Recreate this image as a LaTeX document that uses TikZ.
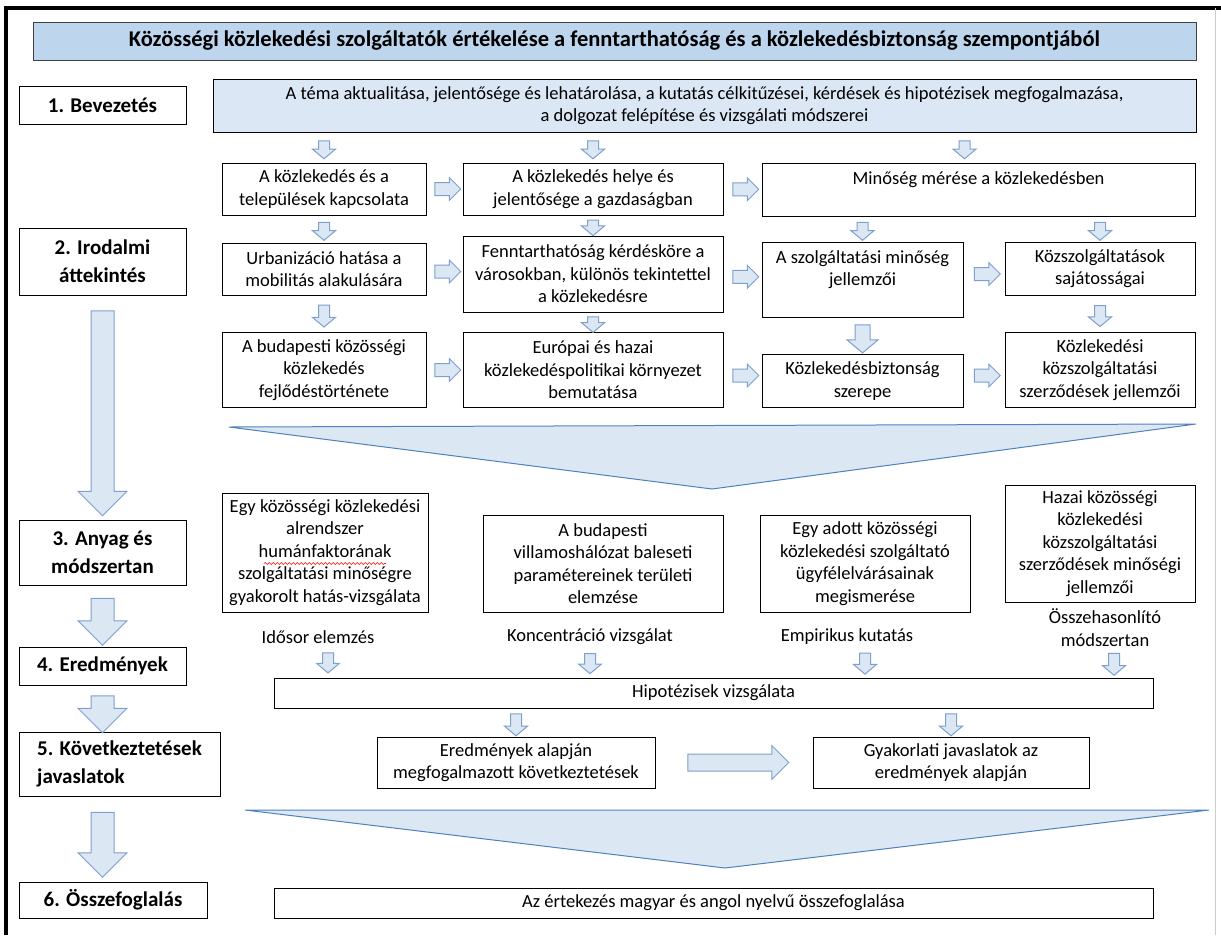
\documentclass[tikz,border=0pt]{standalone}
\usepackage{fontspec}
\setmainfont{Carlito}
\usetikzlibrary{positioning,calc,shapes.arrows,decorations.pathmorphing}

\definecolor{arrfill}{RGB}{220,231,244}
\definecolor{arrline}{RGB}{125,160,204}
\definecolor{headfill}{RGB}{189,214,238}
\definecolor{introfill}{RGB}{219,231,244}
\definecolor{funline}{RGB}{79,129,189}

\newcommand{\txtfont}{\fontsize{18.5}{22.5}\selectfont}
\newcommand{\secfont}{\fontsize{21}{28}\selectfont\bfseries}
\newcommand{\headfont}{\fontsize{22.5}{26}\selectfont\bfseries}

\begin{document}
\begin{tikzpicture}[x=1pt,y=-1pt,
  box/.style={draw,line width=1pt,fill=white,align=center,font=\txtfont,inner sep=2pt},
  sec/.style={draw,line width=1pt,align=center,font=\secfont,inner sep=2pt},
  method/.style={align=center,font=\txtfont,inner sep=0pt},
  darr/.style={single arrow,draw=arrline,fill=arrfill,line width=1pt,inner sep=5pt,
    shape border rotate=270,minimum width=0pt,minimum height=18pt,
    single arrow head extend=6pt,single arrow tip angle=100},
  rarr/.style={darr,shape border rotate=0,inner sep=6pt,minimum height=26pt,
    single arrow head extend=5pt,single arrow tip angle=90},
  bigarr/.style={darr,inner sep=11pt,single arrow head extend=13pt,single arrow tip angle=90},
  funnel/.style={draw=funline,fill=arrfill,line width=1pt},
  spellwave/.style={red,line width=.6pt,decorate,decoration={snake,amplitude=1pt,segment length=4pt}}]
\useasboundingbox (0,0) rectangle (1221,935);

\draw[line width=3.5pt] (6,935) -- (6,8) -- (1221,8);
\draw[black!20,line width=1pt] (1215,8) -- (1215,935);

\node[sec,font=\headfont,fill=headfill,draw=black!75,minimum width=1163pt,minimum height=38pt] (T) at (614.5,41)
  {Közösségi közlekedési szolgáltatók értékelése a fenntarthatóság és a közlekedésbiztonság szempontjából};

% left column
\node[sec,minimum width=167pt,minimum height=38pt] (S1) at (102.5,105) {1. Bevezetés};
\node[sec,minimum width=167pt,minimum height=67pt] (S2) at (102.5,261.5) {2. Irodalmi\\áttekintés};
\node[sec,minimum width=167pt,minimum height=65pt] (S3) at (102.5,552.5) {3. Anyag és\\módszertan};
\node[sec,minimum width=167pt,minimum height=38pt] (S4) at (102.5,666) {4. Eredmények};
\node[sec,align=left,minimum width=201pt,minimum height=64pt] (S5) at (119.5,764) {5. Következtetések\\javaslatok};
\node[sec,minimum width=188pt,minimum height=36pt] (S6) at (113,900) {6. Összefoglalás};

\node[bigarr,minimum height=205pt] at ($(S2.south)!.5!(S3.north)$) {};
\node[bigarr,minimum height=47pt] at ($(S3.south)!.5!(S4.north)$) {};
\node[bigarr,minimum height=37pt] at ($(S4.south)!.5!(S4.south |- S5.north)$) {};
\node[bigarr,minimum height=65pt] at ($(S4.south |- S5.south)!.5!(S4.south |- S6.north)$) {};

% introduction and literature
\node[box,fill=introfill,minimum width=983pt,minimum height=53pt] (I) at (704.5,105.5)
  {A téma aktualitása, jelentősége és lehatárolása, a kutatás célkitűzései, kérdések és hipotézisek megfogalmazása,\\a dolgozat felépítése és vizsgálati módszerei};

\node[box,minimum width=204pt,minimum height=52pt] (A1) at (324,189) {A közlekedés és a\\települések kapcsolata};
\node[box,minimum width=260pt,minimum height=52pt] (A2) at (593,189) {A közlekedés helye és\\jelentősége a gazdaságban};
\node[box,minimum width=433pt,minimum height=53pt] (A3) at (978.5,189.5) {Minőség mérése a közlekedésben\\ \mbox{}};

\node[box,minimum width=204pt,minimum height=52pt] (B1) at (324,269) {Urbanizáció hatása a\\mobilitás alakulására};
\node[box,minimum width=260pt,minimum height=76pt] (B2) at (593,274) {Fenntarthatóság kérdésköre a\\városokban, különös tekintettel\\a közlekedésre};
\node[box,minimum width=201pt,minimum height=75pt] (B3) at (862.5,279.5) {A szolgáltatási minőség\\jellemzői\\ \mbox{}};
\node[box,minimum width=190pt,minimum height=53pt] (B4) at (1100,268.5) {Közszolgáltatások\\sajátosságai};

\node[box,minimum width=204pt,minimum height=75pt] (C1) at (324,370) {A budapesti közösségi\\közlekedés\\fejlődéstörténete};
\node[box,minimum width=260pt,minimum height=75pt] (C2) at (593,370) {Európai és hazai\\közlekedéspolitikai környezet\\bemutatása};
\node[box,minimum width=201pt,minimum height=53pt] (C3) at (862.5,381) {Közlekedésbiztonság\\szerepe};
\node[box,minimum width=190pt,minimum height=75pt] (C4) at (1100,370) {Közlekedési\\közszolgáltatási\\szerződések jellemzői};

\node[darr] at ($(A1.north)!.5!(A1.north |- I.south)$) {};
\node[darr] at ($(A2.north)!.5!(A2.north |- I.south)$) {};
\node[darr] at ($(A3.north)!.5!(A3.north |- I.south)+(-14,0)$) {};
\node[darr] at ($(A1.south)!.5!(B1.north)$) {};
\node[darr,minimum height=15pt] at ($(A2.south)!.5!(A2.south |- B2.north)$) {};
\node[darr] at ($(B3.north)!.5!(B3.north |- A3.south)$) {};
\node[darr] at ($(B4.north)!.5!(B4.north |- A3.south)$) {};
\node[darr,minimum height=22pt] at ($(B1.south)!.5!(C1.north)$) {};
\node[darr,minimum height=15pt] at ($(B2.south)!.5!(C2.north)$) {};
\node[darr,inner sep=7pt,single arrow head extend=8pt,minimum height=28pt] at ($(B3.south)!.5!(C3.north)$) {};
\node[darr,minimum height=21pt] at ($(B4.south)!.5!(C4.north)$) {};

\node[rarr] at ($(A1.east)!.5!(A2.west)$) {};
\node[rarr] at ($(A2.east)!.5!(A3.west)$) {};
\node[rarr] at ($(B1.east)!.5!(B2.west)$) {};
\node[rarr] at ($(B2.east)!.5!(B3.west)$) {};
\node[rarr] at ($(B3.east)!.5!(B4.west)$) {};
\node[rarr] at ($(C1.east)!.5!(C2.west)$) {};
\node[rarr] at ($(C2.east)!.5!(C3.west)$) {};
\node[rarr] at ($(C3.east)!.5!(C4.west)$) {};

\draw[funnel] (229,427) -- (1196,424) -- (712,489) -- cycle;

% methods
\node[box,minimum width=206pt,minimum height=119pt] (D1) at (325,552.5)
  {Egy közösségi közlekedési\\alrendszer\\humánfaktorának\\szolgáltatási minőségre\\gyakorolt hatás-vizsgálata};
\draw[spellwave] ($(D1.center)+(-61,11)$) -- ($(D1.center)+(61,11)$);
\node[box,minimum width=240pt,minimum height=97pt] (D2) at (603,563.5) {A budapesti\\villamoshálózat baleseti\\paramétereinek területi\\elemzése};
\node[box,minimum width=210pt,minimum height=97pt] (D3) at (865,563.5) {Egy adott közösségi\\közlekedési szolgáltató\\ügyfélelvárásainak\\megismerése};
\node[box,minimum width=190pt,minimum height=117pt] (D4) at (1100,543.5) {Hazai közösségi\\közlekedési\\közszolgáltatási\\szerződések minőségi\\jellemzői};

\node[method] (L1) at (318,637) {Idősor elemzés};
\node[method] (L2) at (590,637) {Koncentráció vizsgálat};
\node[method] (L3) at (847,637) {Empirikus kutatás};
\node[method] (L4) at (1105,627.5) {Összehasonlító\\módszertan};

% results
\node[box,minimum width=879pt,minimum height=30pt] (H) at (713.5,693) {Hipotézisek vizsgálata};
\node[box,minimum width=278pt,minimum height=51pt] (F1) at (516,762.5) {Eredmények alapján\\megfogalmazott következtetések};
\node[box,minimum width=276pt,minimum height=51pt] (F2) at (951,762.5) {Gyakorlati javaslatok az\\eredmények alapján};
\node[box,minimum width=879pt,minimum height=30pt] (Z) at (713.5,903) {Az értekezés magyar és angol nyelvű összefoglalása};

\node[darr,minimum height=20pt] at ($(L1.south)!.5!(L1.south |- H.north)+(10,0)$) {};
\node[darr,minimum height=20pt] at ($(L2.south)!.5!(L2.south |- H.north)$) {};
\node[darr,minimum height=21pt] at ($(L3.south)!.5!(L3.south |- H.north)+(18,0)$) {};
\node[darr,minimum height=22pt] at ($(L4.south)!.5!(L4.south |- H.north)+(9,0)$) {};
\node[darr,minimum height=22pt] at ($(F1.north)!.5!(F1.north |- H.south)$) {};
\node[darr,minimum height=22pt] at ($(F2.north)!.5!(F2.north |- H.south)$) {};
\node[rarr,inner sep=8pt,single arrow head extend=8.5pt,minimum height=101pt] at ($(F1.east)!.5!(F2.west)$) {};

\draw[funnel] (245,810) -- (1209,810) -- (725,868) -- cycle;

\end{tikzpicture}
\end{document}
